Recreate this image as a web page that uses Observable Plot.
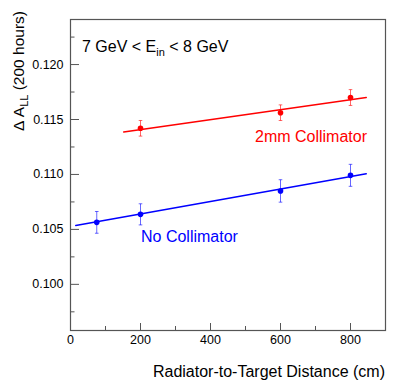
<!DOCTYPE html>
<html>
<head>
<meta charset="utf-8">
<script src="https://cdn.jsdelivr.net/npm/d3@7"></script>
<script src="https://cdn.jsdelivr.net/npm/@observablehq/plot@0.6"></script>
<style>
  html, body { margin: 0; padding: 0; background: #fff; }
  #chart svg { display: block; }
</style>
</head>
<body>
<div id="chart"></div>
<script>
// Data
const distances = [75, 200, 600, 800];           // cm (No Collimator)
const noCollVals = [0.10564, 0.10637, 0.10850, 0.10992];
const noCollErrs = [0.00099, 0.00096, 0.00102, 0.00100];

const collDistances = [200, 600, 800];            // cm (2mm Collimator)
const collVals = [0.11420, 0.11562, 0.11700];
const collErrs = [0.00071, 0.00071, 0.00072];

// Linear fit endpoints
const noCollFitX = [15, 845];
const noCollFitY = [0.10536, 0.11006];
const collFitX = [152, 845];
const collFitY = [0.11387, 0.11700];

const xMajorTicks = [0, 200, 400, 600, 800];
const xMinorTicks = [100, 300, 500, 700, 900];
const yMajorTicks = [0.100, 0.105, 0.110, 0.115, 0.120];
const yMinorTicks = [0.0975, 0.1025, 0.1075, 0.1125, 0.1175, 0.1225];

const titleText = ["7 GeV < E", "in", " < 8 GeV"];
const xLabel = "Radiator-to-Target Distance (cm)";
const yLabel = ["Δ A", "LL", " (200 hours)"];
const noCollLabel = "No Collimator";
const collLabel = "2mm Collimator";

const noColl = distances.map((d, i) => ({x: d, y: noCollVals[i], e: noCollErrs[i]}));
const coll = collDistances.map((d, i) => ({x: d, y: collVals[i], e: collErrs[i]}));
const noCollFit = noCollFitX.map((x, i) => ({x, y: noCollFitY[i]}));
const collFit = collFitX.map((x, i) => ({x, y: collFitY[i]}));

const capSymbol = {
  draw(context, size) {
    const r = Math.sqrt(size / Math.PI);
    context.moveTo(-r, 0);
    context.lineTo(r, 0);
  }
};

const font = "Liberation Sans, Arial, Helvetica, sans-serif";
const RED = "#ff0000", BLUE = "#0000ff", AXIS = "#555";

function errMarks(data, color) {
  return [
    Plot.link(data, {x1: "x", x2: "x", y1: d => d.y - d.e, y2: d => d.y + d.e, stroke: color, strokeOpacity: 0.6, strokeWidth: 1}),
    Plot.dot(data, {x: "x", y: d => d.y - d.e, symbol: capSymbol, r: 1.8, stroke: color, strokeOpacity: 0.6, strokeWidth: 1, fill: "none"}),
    Plot.dot(data, {x: "x", y: d => d.y + d.e, symbol: capSymbol, r: 1.8, stroke: color, strokeOpacity: 0.6, strokeWidth: 1, fill: "none"}),
    Plot.dot(data, {x: "x", y: "y", r: 2.8, fill: color, stroke: "none"})
  ];
}

const plot = Plot.plot({
  width: 405,
  height: 389,
  marginLeft: 70,
  marginRight: 20,
  marginTop: 19,
  marginBottom: 59,
  style: {fontFamily: font, background: "#fff"},
  x: {domain: [0, 900]},
  y: {domain: [0.0958, 0.1241]},
  marks: [
    // Axis labels (no tick marks)
    Plot.axisX({ticks: xMajorTicks, tickSize: 0, tickPadding: 5, tickFormat: d => String(d), fontSize: 12.5, fill: "#000", label: null}),
    Plot.axisY({ticks: yMajorTicks, tickSize: 0, tickPadding: 7, tickFormat: d3.format(".3f"), fontSize: 12.5, fill: "#000", label: null}),
    // Inward tick marks
    Plot.axisX({ticks: xMajorTicks, tickSize: 7, dy: -7, text: null, label: null, stroke: AXIS}),
    Plot.axisX({ticks: xMinorTicks, tickSize: 4, dy: -4, text: null, label: null, stroke: AXIS}),
    Plot.axisY({ticks: yMajorTicks, tickSize: 9, dx: 9, text: null, label: null, stroke: AXIS}),
    Plot.axisY({ticks: yMinorTicks, tickSize: 4.5, dx: 4.5, text: null, label: null, stroke: AXIS}),
    Plot.frame({stroke: AXIS, strokeWidth: 1.2}),
    // Fits
    Plot.line(collFit, {x: "x", y: "y", stroke: RED, strokeWidth: 1.5}),
    Plot.line(noCollFit, {x: "x", y: "y", stroke: BLUE, strokeWidth: 1.5}),
    // Points with errors
    ...errMarks(coll, RED),
    ...errMarks(noColl, BLUE)
  ]
});

const svg = d3.select(plot);
// Title in plot (with subscript)
const t = svg.append("text")
  .attr("x", 82).attr("y", 52).attr("text-anchor", "start")
  .attr("font-family", font).attr("font-size", 16).attr("fill", "#000");
t.append("tspan").text(titleText[0]);
t.append("tspan").attr("font-size", 11).attr("dy", 4).text(titleText[1]);
t.append("tspan").attr("dy", -4).text(titleText[2]);

// Series labels
svg.append("text").attr("x", 255).attr("y", 142).attr("text-anchor", "start")
  .attr("font-family", font).attr("font-size", 16).attr("fill", RED).text(collLabel);
svg.append("text").attr("x", 141).attr("y", 242).attr("text-anchor", "start")
  .attr("font-family", font).attr("font-size", 16).attr("fill", BLUE).text(noCollLabel);

// X axis label
svg.append("text").attr("x", 385).attr("y", 377).attr("text-anchor", "end")
  .attr("font-family", font).attr("font-size", 16).attr("fill", "#000").text(xLabel);

// Y axis label (rotated)
const yl = svg.append("text")
  .attr("transform", "translate(24,131) rotate(-90)").attr("text-anchor", "start")
  .attr("font-family", font).attr("font-size", 15.5).attr("fill", "#000");
yl.append("tspan").text(yLabel[0]);
yl.append("tspan").attr("font-size", 11).attr("dy", 4).text(yLabel[1]);
yl.append("tspan").attr("dy", -4).text(yLabel[2]);

document.getElementById("chart").appendChild(plot);
</script>
</body>
</html>
